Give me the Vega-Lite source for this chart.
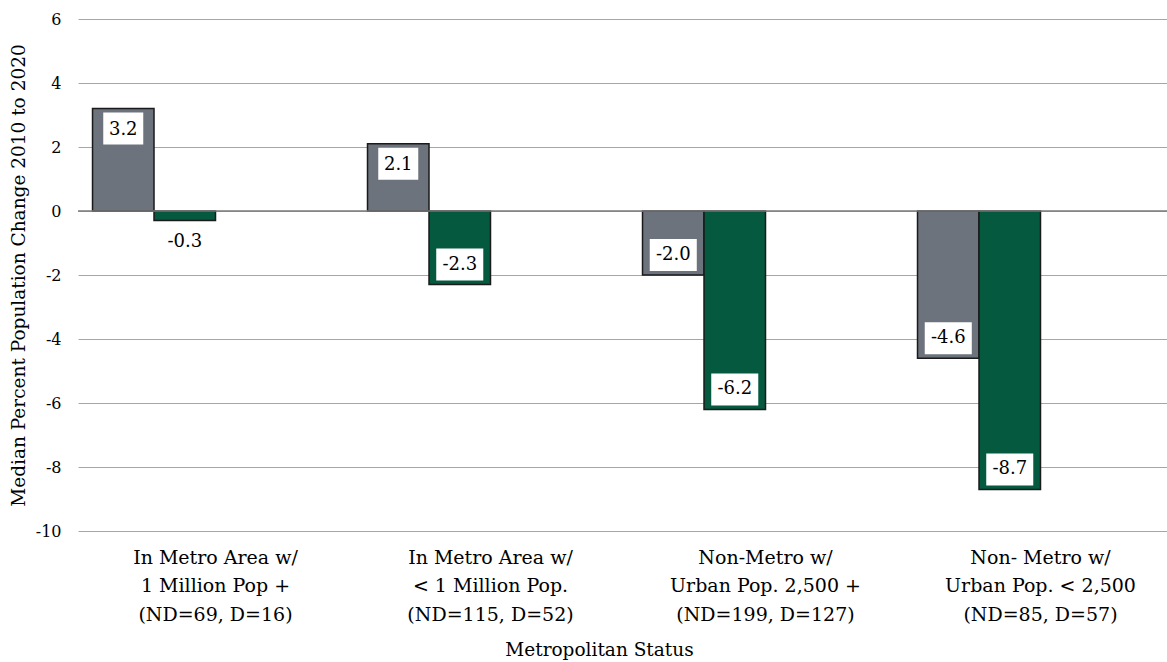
{
  "$schema": "https://vega.github.io/schema/vega-lite/v6.json",
  "autosize": {"type": "none"},
  "padding": {"left": 78, "top": 19, "right": 0, "bottom": 131},
  "width": 1100,
  "height": 512,
  "background": "white",
  "config": {
    "view": {"stroke": null},
    "font": "DejaVu Serif",
    "text": {"font": "DejaVu Serif"}
  },
  "data": {
    "values": [
      {"status": "In Metro Area w/|1 Million Pop +|(ND=69, D=16)", "series": "ND", "change": 3.2, "label": "3.2"},
      {"status": "In Metro Area w/|1 Million Pop +|(ND=69, D=16)", "series": "D", "change": -0.3, "label": "-0.3"},
      {"status": "In Metro Area w/|< 1 Million Pop.|(ND=115, D=52)", "series": "ND", "change": 2.1, "label": "2.1"},
      {"status": "In Metro Area w/|< 1 Million Pop.|(ND=115, D=52)", "series": "D", "change": -2.3, "label": "-2.3"},
      {"status": "Non-Metro w/|Urban Pop. 2,500 +|(ND=199, D=127)", "series": "ND", "change": -2.0, "label": "-2.0"},
      {"status": "Non-Metro w/|Urban Pop. 2,500 +|(ND=199, D=127)", "series": "D", "change": -6.2, "label": "-6.2"},
      {"status": "Non- Metro w/|Urban Pop. < 2,500|(ND=85, D=57)", "series": "ND", "change": -4.6, "label": "-4.6"},
      {"status": "Non- Metro w/|Urban Pop. < 2,500|(ND=85, D=57)", "series": "D", "change": -8.7, "label": "-8.7"}
    ]
  },
  "encoding": {
    "x": {
      "field": "status",
      "type": "nominal",
      "sort": null,
      "scale": {"paddingInner": 0, "paddingOuter": 0},
      "axis": {
        "title": "Metropolitan Status",
        "titleFontSize": 18.5,
        "titleFontWeight": "normal",
        "titleColor": "#000000",
        "titlePadding": 16,
        "titleX": 521,
        "titleAlign": "center",
        "titleAnchor": "start",
        "labelAngle": 0,
        "labelExpr": "split(datum.label, '|')",
        "labelFontSize": 19,
        "labelLineHeight": 28.5,
        "labelColor": "#000000",
        "labelPadding": 17,
        "labelLimit": 0,
        "domain": false,
        "ticks": false,
        "grid": false
      }
    },
    "xOffset": {
      "field": "series",
      "type": "nominal",
      "scale": {"domain": ["ND", "D", "_3", "_4"], "paddingInner": 0, "paddingOuter": 0.236}
    },
    "y": {
      "field": "change",
      "type": "quantitative",
      "scale": {"domain": [-10, 6], "nice": false},
      "axis": {
        "title": "Median Percent Population Change 2010 to 2020",
        "titleFontSize": 18.5,
        "titleFontWeight": "normal",
        "titleColor": "#000000",
        "titlePadding": 7,
        "values": [-10, -8, -6, -4, -2, 0, 2, 4, 6],
        "labelExpr": "toString(datum.value)",
        "labelFontSize": 16,
        "labelColor": "#000000",
        "labelPadding": 17,
        "domain": false,
        "ticks": false,
        "grid": true,
        "gridColor": "#a6a6a6",
        "gridWidth": 1
      }
    }
  },
  "layer": [
    {
      "mark": {"type": "bar", "stroke": "#1a1a1a", "strokeWidth": 1.5},
      "encoding": {
        "color": {
          "field": "series",
          "type": "nominal",
          "scale": {"domain": ["ND", "D"], "range": ["#6c737d", "#04593e"]},
          "legend": null
        }
      }
    },
    {
      "data": {"values": [{"zero": 0}]},
      "mark": {"type": "rule", "color": "#7a7a7a", "strokeWidth": 1.5},
      "encoding": {
        "x": null,
        "xOffset": null,
        "y": {"field": "zero", "type": "quantitative"}
      }
    },
    {
      "transform": [{"filter": "datum.change > 0"}],
      "mark": {"type": "point", "shape": "M-1.25,-1H1.25V1H-1.25Z", "filled": true, "fill": "white", "stroke": null, "opacity": 1, "size": 1024, "yOffset": 20}
    },
    {
      "transform": [{"filter": "datum.change < -1"}],
      "mark": {"type": "point", "shape": "M-1.47,-1H1.47V1H-1.47Z", "filled": true, "fill": "white", "stroke": null, "opacity": 1, "size": 1024, "yOffset": -20}
    },
    {
      "transform": [{"filter": "datum.change > -1"}],
      "mark": {"type": "text", "fontSize": 18, "color": "#000000", "baseline": "middle", "align": "center", "yOffset": 21},
      "encoding": {"text": {"field": "label"}}
    },
    {
      "transform": [{"filter": "datum.change < -1"}],
      "mark": {"type": "text", "fontSize": 18, "color": "#000000", "baseline": "middle", "align": "center", "yOffset": -20},
      "encoding": {"text": {"field": "label"}}
    }
  ]
}
